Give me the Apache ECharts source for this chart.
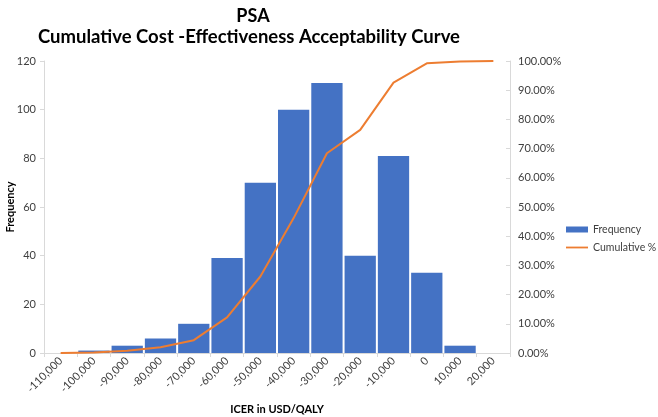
<!DOCTYPE html>
<html>
<head>
<meta charset="utf-8">
<script src="https://cdn.jsdelivr.net/npm/echarts@6/dist/echarts.min.js"></script>
<style>html,body{margin:0;padding:0;background:#fff;}#c{width:658px;height:417px;}</style>
</head>
<body>
<div id="c"></div>
<script>
const categories = ['-110,000','-100,000','-90,000','-80,000','-70,000','-60,000','-50,000','-40,000','-30,000','-20,000','-10,000','0','10,000','20,000'];
const frequency = [0,1,3,6,12,39,70,100,111,40,81,33,3,0];
const cumulative = [0,0.002,0.008,0.02,0.044,0.122,0.262,0.462,0.684,0.764,0.926,0.992,0.998,1.0];

const FONT = 'Lato';
const chart = echarts.init(document.getElementById('c'), null, {renderer:'canvas'});
chart.setOption({
  backgroundColor:'#ffffff',
  animation:false,
  textStyle:{fontFamily:FONT},
  title:[
    {text:'PSA', left:248, top:2, textAlign:'center', textStyle:{fontFamily:FONT, fontWeight:'bold', fontSize:18, color:'#000'}},
    {text:'Cumulative Cost -Effectiveness Acceptability Curve', left:244, top:23, textAlign:'center', textStyle:{fontFamily:FONT, fontWeight:'bold', fontSize:18.5, color:'#000'}}
  ],
  legend:{
    orient:'vertical', left:566, top:224, itemGap:7, itemWidth:22, itemHeight:6, padding:0,
    textStyle:{fontFamily:FONT, fontSize:10.5, color:'#404040'},
    data:[
      {name:'Frequency', icon:'rect'},
      {name:'Cumulative %', icon:'path://M0,0L0,0M22,6L22,6M0,2.1h22v1.8h-22z'}
    ]
  },
  grid:{left:44, right:148, top:61, bottom:64, containLabel:false, outerBoundsMode:'none'},
  xAxis:{
    type:'category', data:categories, boundaryGap:true,
    name:'ICER in USD/QALY', nameLocation:'middle', nameGap:51, nameMoveOverlap:false,
    nameTextStyle:{fontFamily:FONT, fontWeight:'bold', fontSize:11, color:'#000'},
    axisLine:{lineStyle:{color:'#d9d9d9', width:1}},
    axisTick:{show:true, length:4, lineStyle:{color:'#d9d9d9'}},
    axisLabel:{interval:0, rotate:45, fontSize:11, color:'#404040', margin:6, fontFamily:FONT},
    splitLine:{show:false}
  },
  yAxis:[
    {type:'value', min:0, max:120, interval:20,
     name:'Frequency', nameLocation:'middle', nameGap:28, nameRotate:90, nameMoveOverlap:false,
     nameTextStyle:{fontFamily:FONT, fontWeight:'bold', fontSize:11, color:'#000'},
     axisLine:{show:true, lineStyle:{color:'#d9d9d9'}},
     axisTick:{show:true, length:4, lineStyle:{color:'#d9d9d9'}},
     axisLabel:{fontSize:11, color:'#404040', margin:8, fontFamily:FONT},
     splitLine:{show:false}},
    {type:'value', min:0, max:1, interval:0.1, position:'right',
     axisLine:{show:true, lineStyle:{color:'#d9d9d9'}},
     axisTick:{show:true, inside:true, length:4, lineStyle:{color:'#d9d9d9'}},
     axisLabel:{fontSize:11, color:'#404040', margin:8, fontFamily:FONT, formatter:v=>(v*100).toFixed(2)+'%'},
     splitLine:{show:false}}
  ],
  series:[
    {name:'Frequency', type:'bar', data:frequency, yAxisIndex:0, barCategoryGap:'6%',
     itemStyle:{color:'#4472C4'}},
    {name:'Cumulative %', type:'line', data:cumulative, yAxisIndex:1, showSymbol:false, symbol:'none',
     lineStyle:{color:'#ED7D31', width:2}, itemStyle:{color:'#ED7D31'}}
  ]
});
</script>
</body>
</html>
